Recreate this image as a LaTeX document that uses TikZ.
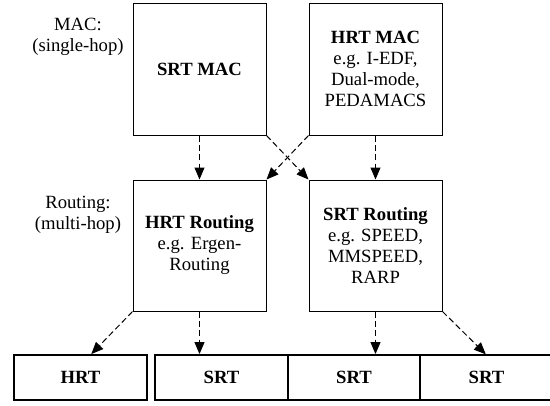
\documentclass[tikz,border=0pt]{standalone}
\usepackage{fontspec}
\setmainfont{Liberation Serif}
\usetikzlibrary{arrows.meta,calc}
\begin{document}
\begin{tikzpicture}[x=0.75pt,y=-0.75pt,
  every node/.style={font=\fontsize{14}{15.75}\selectfont, inner sep=0pt},
  upbox/.style={draw, line width=0.75pt, minimum width=99.75pt, minimum height=99pt, align=center},
  lowbox/.style={draw, line width=1.4pt, minimum width=99.75pt, minimum height=33.75pt, font=\fontsize{14}{15.75}\selectfont\bfseries},
  lbl/.style={align=center},
  dasharrow/.style={draw, line width=0.75pt, dash pattern=on 4.5pt off 2.5pt, -{Triangle[length=9pt,width=7.5pt]}}
]
\useasboundingbox (0,0) rectangle (550,405);
\node[lbl] (maclbl) at (78,37) {MAC:\\(single-hop)};
\node[lbl] (routlbl) at (78,215) {Routing:\\(multi-hop)};
\node[upbox] (srtmac) at (199.5,69) {\textbf{SRT MAC}};
\node[upbox] (hrtmac) at (375.5,69) {\textbf{HRT MAC}\\e.g. I-EDF,\\Dual-mode,\\PEDAMACS};
\node[upbox, minimum height=98.25pt] (hrtr) at (199.5,245.5) {\textbf{HRT Routing}\\e.g. Ergen-\\Routing};
\node[upbox, minimum height=98.25pt] (srtr) at (375.5,245.5) {\textbf{SRT Routing}\\e.g. SPEED,\\MMSPEED,\\RARP};
\node[lowbox] (hrt) at (80.5,377.5) {HRT};
\node[lowbox] (s1) at (221.5,377.5) {SRT};
\node[lowbox, minimum width=99pt] (s2) at (354,377.5) {SRT};
\node[lowbox, draw=none, outer sep=0pt] (s3) at (486.5,377.5) {SRT};
\draw[line width=1.4pt] ($(s3.north east)+(6,0)$) -- (s3.north west) -- (s3.south west) -- ($(s3.south east)+(6,0)$);
\draw[dasharrow] (srtmac.south) -- (hrtr.north);
\draw[dasharrow] (hrtmac.south) -- (srtr.north);
\draw[dasharrow] (srtmac.south east) -- (srtr.north west);
\draw[dasharrow] (hrtmac.south west) -- (hrtr.north east);
\draw[dasharrow] (hrtr.south west) -- ($(hrt.north west)!0.58!(hrt.north east)$);
\draw[dasharrow] (hrtr.south) -- (hrtr.south |- s1.north);
\draw[dasharrow] (srtr.south) -- (srtr.south |- s2.north);
\draw[dasharrow, shorten >=0.7pt] (srtr.south east) -- (s3.north);
\end{tikzpicture}
\end{document}
